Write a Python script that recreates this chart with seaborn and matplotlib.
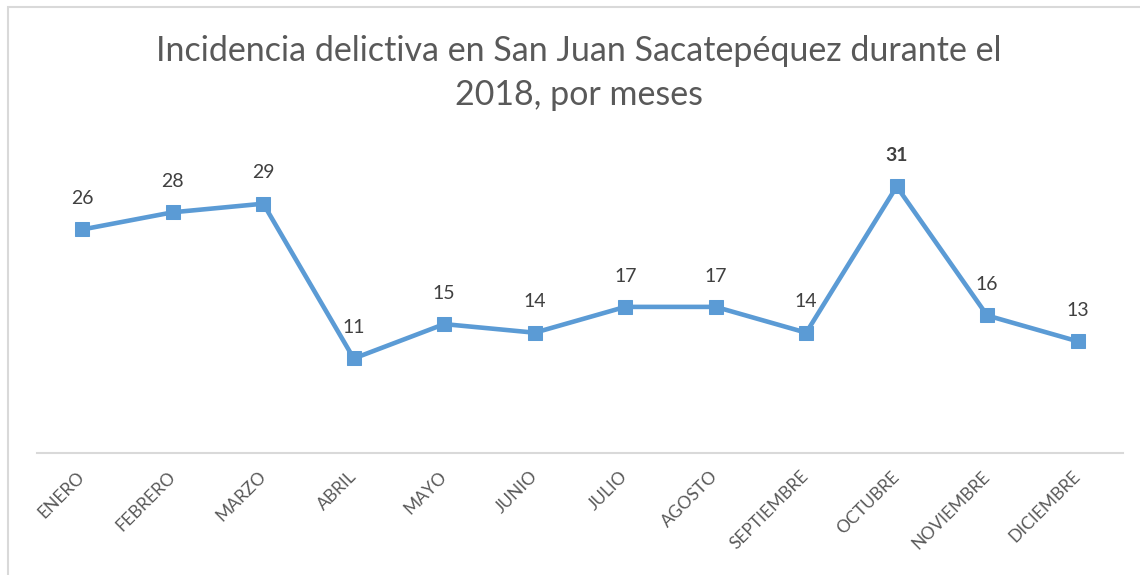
import matplotlib
matplotlib.use("Agg")
import matplotlib.pyplot as plt
from matplotlib.patches import Rectangle
import seaborn as sns
import pandas as pd

meses = ["ENERO", "FEBRERO", "MARZO", "ABRIL", "MAYO", "JUNIO", "JULIO",
         "AGOSTO", "SEPTIEMBRE", "OCTUBRE", "NOVIEMBRE", "DICIEMBRE"]
casos = [26, 28, 29, 11, 15, 14, 17, 17, 14, 31, 16, 13]
titulo = "Incidencia delictiva en San Juan Sacatepéquez durante el\n2018, por meses"

sns.set_theme(style="white")
plt.rcParams['font.family'] = ['Lato', 'DejaVu Sans']

df = pd.DataFrame({"pos": list(range(len(meses))), "mes": meses, "casos": casos})

fig = plt.figure(figsize=(11.4, 5.75), dpi=100)
ax = fig.add_axes([0.0325, 0.212, 0.9525, 0.5235])

color = "#5B9BD5"
sns.lineplot(data=df, x="pos", y="casos", ax=ax, color=color, linewidth=3.3,
             marker="s", markersize=10, markeredgecolor=color, markerfacecolor=color)

ax.set_xlim(-0.5, len(meses) - 0.5)
ax.set_ylim(0, 35)
ax.set_xticks(df["pos"])
ax.set_xticklabels(meses, rotation=45, ha="right", va="center",
                   rotation_mode="anchor", fontsize=12.5, color="#595959")
ax.tick_params(axis="x", length=0, pad=15)
ax.set_yticks([])
ax.set_xlabel("")
ax.set_ylabel("")
for s in ["top", "right", "left"]:
    ax.spines[s].set_visible(False)
ax.spines["bottom"].set_color("#D9D9D9")
ax.spines["bottom"].set_linewidth(1.5)

vmax = max(casos)
for p, v in zip(df["pos"], casos):
    ax.annotate(str(v), (p, v), xytext=(0, 16), textcoords="offset points",
                ha="center", va="bottom", fontsize=14, color="#404040",
                fontweight="bold" if v == vmax else "normal")

fig.text(0.508, 0.873, titulo, ha="center", va="center", fontsize=24.5,
         color="#595959", linespacing=1.45)

fig.patches.append(Rectangle((8 / 1140, -0.1), 1.2, 1 - 7 / 575 + 0.1,
                             transform=fig.transFigure, fill=False,
                             edgecolor="#D9D9D9", linewidth=1.5))

fig.savefig("out.png", dpi=100)
